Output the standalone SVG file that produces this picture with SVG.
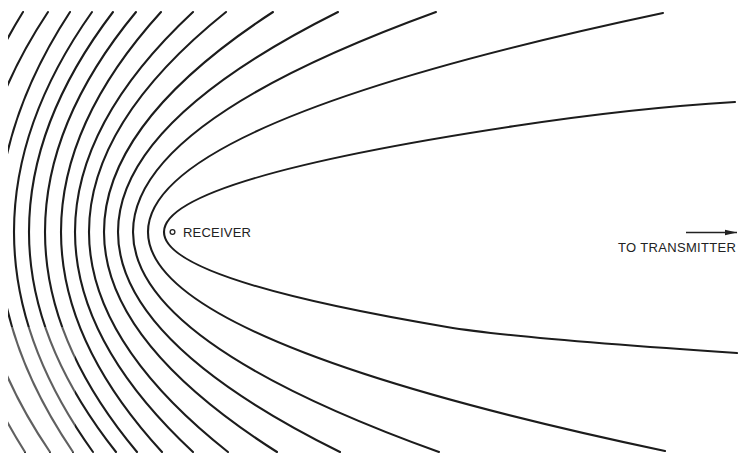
<svg xmlns="http://www.w3.org/2000/svg" width="738" height="454" viewBox="0 0 738 454">
  <style>
    .w { fill: none; stroke: #1c1c1c; stroke-width: 2.1; stroke-linecap: round; stroke-linejoin: round; }
    .lbl { font-family: "Liberation Sans", "DejaVu Sans", sans-serif; font-size: 13px; fill: #222; }
  </style>
  <defs>
    <clipPath id="frame"><rect x="8" y="0" width="730" height="454"/></clipPath>
    <marker id="ah" viewBox="0 0 12 8" refX="12" refY="4" markerWidth="12" markerHeight="8" markerUnits="userSpaceOnUse" orient="auto">
      <path d="M0,1.2 L12,4 L0,6.8 Z" fill="#222"/>
    </marker>
  </defs>
  <rect width="738" height="454" fill="#ffffff"/>
  <g id="wavefronts" clip-path="url(#frame)">
    <path class="w" d="M735,102 Q631,108.2 513,126.3 Q164,179.2 164,232 Q164,279.5 447,327 Q512,338 737,353"/>
    <path class="w" d="M663,13 Q148,122 148,232 Q148,342 665,451"/>
    <path class="w" d="M436,12 Q133,122 133,232 Q133,342 439,452"/>
    <path class="w" d="M338,12 Q118,122 118,232 Q118,342 340,452"/>
    <path class="w" d="M273,12 Q104,122 104,232 Q104,342 277,452"/>
    <path class="w" d="M226,12 Q89,122 89,232 Q89,342 228,452"/>
    <path class="w" d="M193,12 Q75,122 75,232 Q75,342 193,452"/>
    <path class="w" d="M161,12 Q61,122 61,232 Q61,342 162,452"/>
    <path class="w" d="M136,12 Q45,122 45,232 Q45,342 137,452"/>
    <path class="w" d="M113,12 Q29,122 29,232 Q29,342 116,452"/>
    <path class="w" d="M92,12 Q14,122 14,232 Q14,342 93,452"/>
    <path class="w" d="M70,12 Q-2,122 -2,232 Q-2,342 73,452"/>
    <path class="w" d="M48,12 Q-25,122 -25,232 Q-25,342 50,452"/>
    <path class="w" d="M23,12 Q-45,122 -45,232 Q-45,342 25,452"/>
  </g>
  <rect x="8" y="327" width="67" height="125" fill="#ffffff" opacity="0.3"/>
  <g id="receiver">
    <circle cx="172.5" cy="232" r="2.4" fill="#fff" stroke="#222" stroke-width="1.3"/>
    <text class="lbl" x="183" y="237" textLength="68" lengthAdjust="spacing">RECEIVER</text>
  </g>
  <g id="transmitter">
    <line x1="686" y1="232.5" x2="737" y2="232.5" stroke="#222" stroke-width="1.4" marker-end="url(#ah)"/>
    <text class="lbl" x="618" y="252" textLength="118" lengthAdjust="spacing">TO TRANSMITTER</text>
  </g>
</svg>
